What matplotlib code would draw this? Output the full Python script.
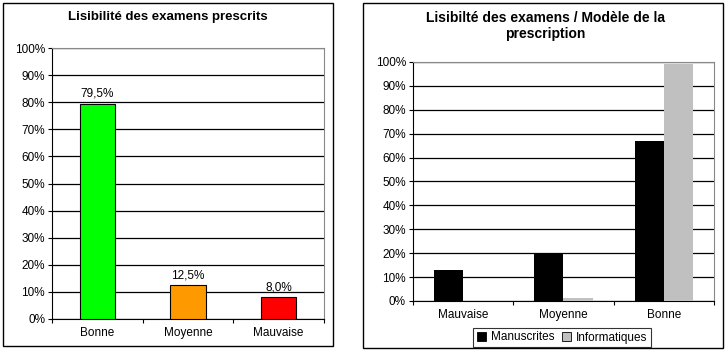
import matplotlib.pyplot as plt
from matplotlib.patches import Rectangle
import numpy as np

plt.rcParams['font.family'] = ['Liberation Sans', 'DejaVu Sans']

# left chart data
cats1 = ["Bonne", "Moyenne", "Mauvaise"]
vals1 = [79.5, 12.5, 8.0]
cols1 = ["#00FF00", "#FF9900", "#FF0000"]

# right chart data
cats2 = ["Mauvaise", "Moyenne", "Bonne"]
manuscrites = [13.0, 19.9, 66.9]
informatiques = [0.0, 1.3, 99.0]

yticks = np.arange(0, 101, 10)
ylabels = ["%d%%" % v for v in yticks]
fs = 8.5


def style_axes(ax, n):
    ax.set_ylim(0, 100)
    ax.set_xlim(-0.5, n - 0.5)
    ax.set_yticks(yticks)
    ax.set_yticklabels(ylabels, fontsize=fs)
    ax.yaxis.grid(True, color="black", linewidth=0.9)
    ax.set_axisbelow(True)
    ax.spines["top"].set_color("#888888")
    ax.spines["right"].set_color("#888888")
    ax.spines["left"].set_color("black")
    ax.spines["bottom"].set_color("black")
    ax.tick_params(axis="y", length=3, width=0.8, pad=2)
    ax.set_xticks(np.arange(-0.5, n, 1), minor=True)
    ax.tick_params(axis="x", which="minor", length=3, width=0.8)
    ax.tick_params(axis="x", which="major", length=0, pad=6)


fig = plt.figure(figsize=(7.27, 3.51), dpi=100)

# panel frames
fig.patches.append(Rectangle((3 / 727, 5 / 351), 330 / 727, 343 / 351, transform=fig.transFigure,
                             fill=False, edgecolor="black", linewidth=1))
fig.patches.append(Rectangle((363 / 727, 3 / 351), 360 / 727, 345 / 351, transform=fig.transFigure,
                             fill=False, edgecolor="black", linewidth=1))

# left chart
ax1 = fig.add_axes([0.0715, 0.0912, 0.3741, 0.772])
x1 = np.arange(len(cats1))
ax1.bar(x1, vals1, width=0.39, color=cols1, edgecolor="black", linewidth=0.8, zorder=3)
for xi, v in zip(x1, vals1):
    ax1.text(xi, v + 1.5, ("%.1f%%" % v).replace(".", ","), ha="center", va="bottom", fontsize=fs)
style_axes(ax1, len(cats1))
ax1.set_xticks(x1)
ax1.set_xticklabels(cats1, fontsize=fs)
fig.text(168 / 727, 1 - 17 / 351, "Lisibilité des examens prescrits", ha="center", va="center",
         fontsize=9.5, fontweight="bold")

# right chart
ax2 = fig.add_axes([0.568, 0.1425, 0.414, 0.681])
x2 = np.arange(len(cats2))
w = 0.29
ax2.bar(x2 - w / 2, manuscrites, width=w, color="black", label="Manuscrites", zorder=3)
ax2.bar(x2 + w / 2, informatiques, width=w, color="#C0C0C0", label="Informatiques", zorder=3)
style_axes(ax2, len(cats2))
ax2.set_xticks(x2)
ax2.set_xticklabels(cats2, fontsize=fs)
fig.text(545 / 727, 1 - 26 / 351, "Lisibilté des examens / Modèle de la\nprescription", ha="center",
         va="center", fontsize=10, fontweight="bold", linespacing=1.1)
leg = fig.legend(loc="center", bbox_to_anchor=(562 / 727, 1 - 337.5 / 351), ncol=2, fontsize=fs,
                 frameon=True, fancybox=False, edgecolor="black", handlelength=0.8, handleheight=0.8,
                 handletextpad=0.4, columnspacing=0.6, borderpad=0.3)
leg.get_frame().set_linewidth(0.8)
for h in leg.legend_handles:
    h.set_edgecolor("black")
    h.set_linewidth(0.6)

fig.savefig("out.png", dpi=100)
